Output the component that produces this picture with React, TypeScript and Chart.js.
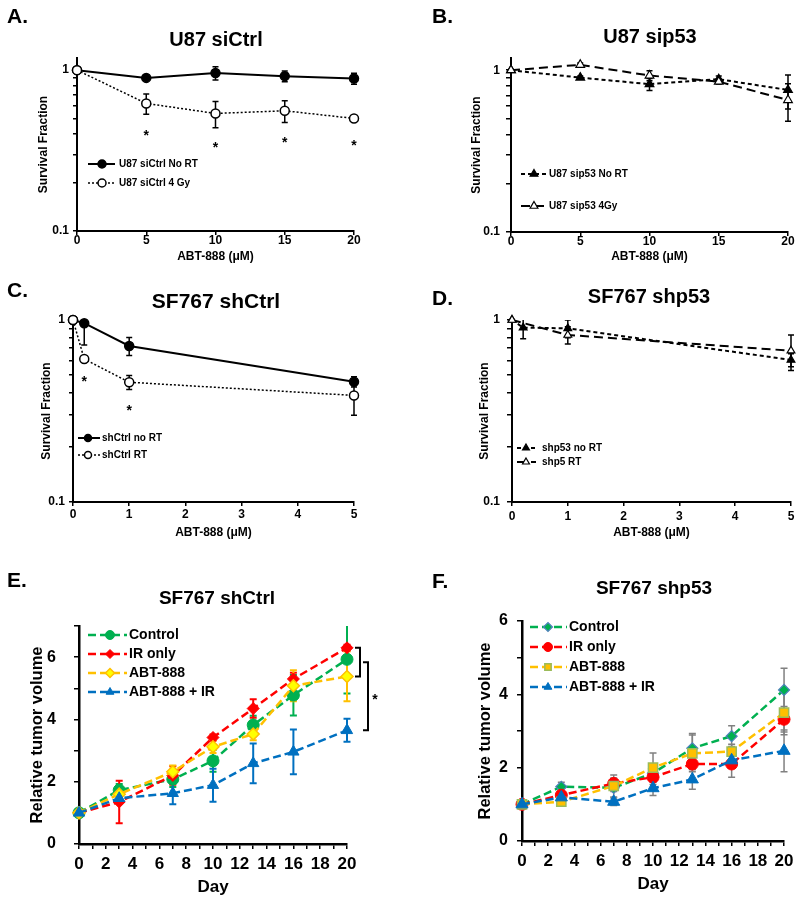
import React, { useEffect, useRef } from 'react';
import { Chart, registerables } from 'chart.js';
import { drawPoint } from 'chart.js/helpers';

Chart.register(...registerables);
Chart.defaults.color = '#000';

const FONT = '"Liberation Sans", Arial, Helvetica, sans-serif';

// ---------- Panel A: U87 siCtrl ----------
const aDose = [0, 5, 10, 15, 20];
const aNoRT = [1.0, 0.895, 0.96, 0.918, 0.888];
const aNoRTErr = [0, 0.03, 0.09, 0.07, 0.07];
const a4Gy = [1.0, 0.621, 0.538, 0.559, 0.501];
const a4GyErr = [0, 0.089, 0.1, 0.087, 0.015];
const aStarDose = [5, 10, 15, 20];
const aStarY = [0.412, 0.347, 0.373, 0.357];

// ---------- Panel B: U87 sip53 ----------
const bDose = [0, 5, 10, 15, 20];
const bNoRT = [1.0, 0.9, 0.82, 0.88, 0.755];
const bNoRTErr = [0, 0.02, 0.07, 0.04, 0.18];
const b4Gy = [1.0, 1.08, 0.927, 0.85, 0.654];
const b4GyErr = [0, 0.03, 0.066, 0.03, 0.17];

// ---------- Panel C: SF767 shCtrl ----------
const cDose = [0, 0.2, 1, 5];
const cNoRT = [1.0, 0.96, 0.72, 0.458];
const cNoRTErr = [0, 0.23, 0.082, 0.03];
const cRT = [1.0, 0.61, 0.455, 0.385];
const cRTErr = [0, 0.02, 0.04, 0.085];
const cStarDose = [0.2, 1];
const cStarY = [0.482, 0.334];

// ---------- Panel D: SF767 shp53 ----------
const dDose = [0, 0.2, 1, 5];
const dNoRT = [1.0, 0.908, 0.9, 0.603];
const dNoRTErr = [0, 0.12, 0.1, 0.05];
const dRT = [1.0, null, 0.827, 0.678];
const dRTErr = [0, 0, 0.09, 0.15];

// ---------- Panel E: SF767 shCtrl tumor volume ----------
const eDay = [0, 3, 7, 10, 13, 16, 20];
const eControl = [1.0, 1.73, 2.08, 2.67, 3.82, 4.78, 5.93];
const eControlErr = [0, 0.2, 0.25, 0.35, 0.3, 0.65, 1.1];
const eIR = [1.0, 1.35, 2.2, 3.42, 4.35, 5.3, 6.3];
const eIRErr = [0, 0.68, 0.3, 0.1, 0.3, 0.2, 0.1];
const eABT = [1.0, 1.6, 2.32, 3.12, 3.53, 5.08, 5.38];
const eABTErr = [0, 0.15, 0.2, 0.2, 0.2, 0.5, 0.8];
const eCombo = [1.0, 1.47, 1.63, 1.89, 2.59, 2.96, 3.65];
const eComboErr = [0, 0.15, 0.35, 0.53, 0.64, 0.72, 0.37];

// ---------- Panel F: SF767 shp53 tumor volume ----------
const fDay = [0, 3, 7, 10, 13, 16, 20];
const fControl = [1.0, 1.48, 1.45, 1.85, 2.53, 2.86, 4.12];
const fControlErr = [0, 0.12, 0.1, 0.2, 0.4, 0.28, 0.59];
const fIR = [1.0, 1.25, 1.57, 1.74, 2.1, 2.1, 3.32];
const fIRErr = [0, 0.1, 0.15, 0.2, 0.15, 0.36, 0.35];
const fABT = [1.0, 1.07, 1.5, 2.0, 2.39, 2.44, 3.5];
const fABTErr = [0, 0.1, 0.3, 0.4, 0.5, 0.2, 0.6];
const fCombo = [1.0, 1.19, 1.07, 1.44, 1.68, 2.2, 2.46];
const fComboErr = [0, 0.1, 0.1, 0.2, 0.27, 0.2, 0.57];

const pts = (xs: number[], ys: (number | null)[]) => xs.map((x, i) => ({ x, y: ys[i] }));

type Deco = {
  letter: string; letterX: number; letterY: number;
  title: string; titleX: number; titleY: number; titleSize: number;
  legend: { x0: number; x1: number; mx: number; tx: number; ys: number[]; size: number; r: number };
  stars?: { xs: number[]; ys: number[]; size: number };
  bracket?: boolean;
  cap: number; errWidth: number;
};

function makeDeco(d: Deco) {
  return {
    id: 'deco',
    beforeDatasetsDraw(chart: any) {
      const ctx = chart.ctx;
      const xs = chart.scales.x, ys = chart.scales.y;
      const ca = chart.chartArea;
      ctx.save();
      ctx.beginPath();
      ctx.rect(ca.left - 20, ca.top, ca.right - ca.left + 40, ca.bottom - ca.top);
      ctx.clip();
      chart.data.datasets.forEach((ds: any) => {
        const errs = ds.errors;
        if (!errs) return;
        ctx.strokeStyle = ds.errorColor || ds.borderColor;
        ctx.lineWidth = d.errWidth;
        ctx.setLineDash([]);
        ds.data.forEach((p: any, j: number) => {
          const e = errs[j];
          if (!e || p.y == null) return;
          const x = xs.getPixelForValue(p.x);
          const yt = ys.getPixelForValue(p.y + e);
          const yb = ys.getPixelForValue(Math.max(p.y - e, 1e-6));
          ctx.beginPath();
          ctx.moveTo(x, yt); ctx.lineTo(x, yb);
          ctx.moveTo(x - d.cap, yt); ctx.lineTo(x + d.cap, yt);
          ctx.moveTo(x - d.cap, yb); ctx.lineTo(x + d.cap, yb);
          ctx.stroke();
        });
      });
      ctx.restore();
    },
    afterDraw(chart: any) {
      const ctx = chart.ctx;
      const xs = chart.scales.x, ys = chart.scales.y;
      ctx.save();
      ctx.fillStyle = '#000';
      ctx.font = `bold 21px ${FONT}`;
      ctx.textAlign = 'left';
      ctx.textBaseline = 'alphabetic';
      ctx.fillText(d.letter, d.letterX, d.letterY);
      ctx.font = `bold ${d.titleSize}px ${FONT}`;
      ctx.textAlign = 'center';
      ctx.textBaseline = 'middle';
      ctx.fillText(d.title, d.titleX, d.titleY);

      const lg = d.legend;
      lg.ys.forEach((y, i) => {
        const ds = chart.data.datasets[i];
        ctx.strokeStyle = ds.borderColor;
        ctx.lineWidth = ds.borderWidth;
        ctx.setLineDash(ds.borderDash || []);
        ctx.beginPath();
        ctx.moveTo(lg.x0, y); ctx.lineTo(lg.x1, y);
        ctx.stroke();
        ctx.setLineDash([]);
        ctx.fillStyle = ds.pointBackgroundColor;
        ctx.strokeStyle = ds.pointBorderColor;
        ctx.lineWidth = ds.pointBorderWidth;
        drawPoint(ctx, { pointStyle: ds.pointStyle, rotation: 0, radius: lg.r, borderWidth: ds.pointBorderWidth } as any, lg.mx, y);
        ctx.fillStyle = '#000';
        ctx.font = `bold ${lg.size}px ${FONT}`;
        ctx.textAlign = 'left';
        ctx.textBaseline = 'middle';
        ctx.fillText(ds.label, lg.tx, y);
      });

      if (d.stars) {
        const s = d.stars;
        ctx.font = `bold ${s.size}px ${FONT}`;
        ctx.textAlign = 'center';
        ctx.textBaseline = 'alphabetic';
        ctx.fillStyle = '#000';
        s.xs.forEach((xv, i) => {
          ctx.fillText('*', xs.getPixelForValue(xv), ys.getPixelForValue(s.ys[i]) + 0.56 * s.size);
        });
      }

      if (d.bracket) {
        const last = eDay.length - 1;
        const xp = xs.getPixelForValue(eDay[last]);
        const t1 = ys.getPixelForValue(eIR[last]);
        const b1 = ys.getPixelForValue(eABT[last]);
        const midV = (eIR[last] + eABT[last]) / 2;
        const t2 = ys.getPixelForValue(midV);
        const b2 = ys.getPixelForValue(eCombo[last]);
        ctx.strokeStyle = '#000';
        ctx.lineWidth = 2;
        ctx.beginPath();
        ctx.moveTo(xp + 8, t1); ctx.lineTo(xp + 13, t1); ctx.lineTo(xp + 13, b1); ctx.lineTo(xp + 8, b1);
        ctx.moveTo(xp + 16, t2); ctx.lineTo(xp + 21, t2); ctx.lineTo(xp + 21, b2); ctx.lineTo(xp + 16, b2);
        ctx.stroke();
        ctx.font = `bold 14px ${FONT}`;
        ctx.textAlign = 'center';
        ctx.textBaseline = 'alphabetic';
        ctx.fillStyle = '#000';
        ctx.fillText('*', xp + 28, ys.getPixelForValue((midV + eCombo[last]) / 2) + 0.56 * 14);
      }
      ctx.restore();
    },
  };
}

type Geo = {
  W: number; H: number; pt: number; pr: number; pb: number; yw: number; xh: number;
  yTick: [number, number]; yTitlePad: number; xTick: [number, number]; xTitlePad: number;
};

function axisBase(len: number, lw: number) {
  return {
    border: { display: true, color: '#000', width: lw },
    grid: { display: true, drawOnChartArea: false, drawTicks: true, tickLength: len, color: '#000', lineWidth: 1.5 },
  };
}

function buildConfig(g: Geo, kind: 'surv' | 'tumor', xMax: number, xStep: number, yMax: number, datasets: any[], deco: Deco) {
  const small = kind === 'surv';
  const tickSize = small ? 12 : 16;
  const titleSize = small ? 12 : 16.5;
  const lw = small ? 2 : 2.5;
  const yScale: any = small
    ? {
        type: 'logarithmic',
        min: 0.1,
        max: yMax,
        afterBuildTicks: (s: any) => {
          s.ticks = s.ticks.filter((t: any) => t.value <= 1.0001 && Math.abs(t.value * 10 - Math.round(t.value * 10)) < 1e-6);
        },
        ticks: {
          autoSkip: false,
          padding: g.yTick[1],
          font: { family: FONT, size: tickSize, weight: 'bold' },
          callback: (v: any) => (Math.abs(v - 1) < 1e-6 ? '1' : Math.abs(v - 0.1) < 1e-6 ? '0.1' : ''),
        },
      }
    : {
        type: 'linear',
        min: 0,
        max: yMax,
        ticks: {
          stepSize: 1,
          autoSkip: false,
          padding: g.yTick[1],
          font: { family: FONT, size: tickSize, weight: 'bold' },
          callback: (v: any) => (v % 2 === 0 ? String(v) : ''),
        },
      };
  Object.assign(yScale, axisBase(g.yTick[0], lw), {
    afterFit: (s: any) => { s.width = g.yw; },
    title: {
      display: true,
      text: small ? 'Survival Fraction' : 'Relative tumor volume',
      font: { family: FONT, size: titleSize, weight: 'bold', lineHeight: 1.2 },
      padding: { top: g.yTitlePad, bottom: 0 },
    },
  });
  const xScale: any = {
    type: 'linear',
    min: 0,
    max: xMax,
    ...axisBase(g.xTick[0], lw),
    afterFit: (s: any) => { s.height = g.xh; },
    ticks: {
      stepSize: xStep,
      autoSkip: false,
      maxRotation: 0,
      padding: g.xTick[1],
      font: { family: FONT, size: small ? tickSize : 17, weight: 'bold', lineHeight: 1 },
      callback: small ? (v: any) => String(v) : (v: any) => (v % 2 === 0 ? String(v) : ''),
    },
    title: {
      display: true,
      text: small ? 'ABT-888 (μM)' : 'Day',
      font: { family: FONT, size: small ? titleSize : 17, weight: 'bold', lineHeight: 1.2 },
      padding: { top: 0, bottom: g.xTitlePad },
    },
  };
  return {
    type: 'line' as const,
    data: { datasets },
    options: {
      responsive: false,
      animation: false as const,
      events: [] as any[],
      layout: { autoPadding: false, padding: { left: 0, top: g.pt, right: g.pr, bottom: g.pb } },
      plugins: { legend: { display: false }, tooltip: { enabled: false }, title: { display: false } },
      scales: { x: xScale, y: yScale },
    },
    plugins: [makeDeco(deco)],
  };
}

function ds(label: string, data: any[], errors: number[], o: any) {
  return {
    label,
    data,
    errors,
    spanGaps: true,
    clip: false,
    tension: 0,
    fill: false,
    ...o,
  };
}

const BLACK = '#000000';

const cfgA = () =>
  buildConfig(
    { W: 400, H: 270, pt: 58, pr: 46, pb: 3, yw: 77, xh: 36, yTick: [4, 4], yTitlePad: 36.8, xTick: [4, 0], xTitlePad: 2.8 },
    'surv', 20, 5, 1.19,
    [
      ds('U87 siCtrl No RT', pts(aDose, aNoRT), aNoRTErr, {
        borderColor: BLACK, borderWidth: 2, borderDash: [], pointStyle: 'circle', pointRadius: 4.5,
        pointBackgroundColor: BLACK, pointBorderColor: BLACK, pointBorderWidth: 1.5, order: 1,
      }),
      ds('U87 siCtrl 4 Gy', pts(aDose, a4Gy), a4GyErr, {
        borderColor: BLACK, borderWidth: 1.5, borderDash: [2, 2], pointStyle: 'circle', pointRadius: 4.5,
        pointBackgroundColor: '#fff', pointBorderColor: BLACK, pointBorderWidth: 1.5, order: 0,
      }),
    ],
    {
      letter: 'A.', letterX: 7, letterY: 23, title: 'U87 siCtrl', titleX: 216, titleY: 40, titleSize: 20,
      legend: { x0: 88, x1: 115, mx: 102, tx: 119, ys: [164, 183], size: 10, r: 4 },
      stars: { xs: aStarDose, ys: aStarY, size: 14 },
      cap: 3, errWidth: 1.5,
    }
  );

const cfgB = () =>
  buildConfig(
    { W: 400, H: 270, pt: 58, pr: 12, pb: 2, yw: 111, xh: 36, yTick: [5, 6], yTitlePad: 69.8, xTick: [4, 0], xTitlePad: 3.8 },
    'surv', 20, 5, 1.19,
    [
      ds('U87 sip53 No RT', pts(bDose, bNoRT), bNoRTErr, {
        borderColor: BLACK, borderWidth: 2, borderDash: [4, 3], pointStyle: 'triangle', pointRadius: 5,
        pointBackgroundColor: BLACK, pointBorderColor: BLACK, pointBorderWidth: 1.2, order: 1,
      }),
      ds('U87 sip53 4Gy', pts(bDose, b4Gy), b4GyErr, {
        borderColor: BLACK, borderWidth: 2, borderDash: [9, 5], pointStyle: 'triangle', pointRadius: 5,
        pointBackgroundColor: '#fff', pointBorderColor: BLACK, pointBorderWidth: 1.2, order: 0,
      }),
    ],
    {
      letter: 'B.', letterX: 32, letterY: 23, title: 'U87 sip53', titleX: 250, titleY: 37, titleSize: 20,
      legend: { x0: 121, x1: 147, mx: 134, tx: 149, ys: [174, 206], size: 10, r: 4.5 },
      cap: 3, errWidth: 1.5,
    }
  );

const cfgC = () =>
  buildConfig(
    { W: 400, H: 270, pt: 50, pr: 46, pb: 0, yw: 73, xh: 38, yTick: [4, 4], yTitlePad: 39.8, xTick: [4, 3], xTitlePad: 0 },
    'surv', 5, 1, 1,
    [
      ds('shCtrl no RT', pts(cDose, cNoRT), cNoRTErr, {
        borderColor: BLACK, borderWidth: 2, borderDash: [], pointStyle: 'circle', pointRadius: 4.5,
        pointBackgroundColor: BLACK, pointBorderColor: BLACK, pointBorderWidth: 1.5, order: 1,
      }),
      ds('shCtrl RT', pts(cDose, cRT), cRTErr, {
        borderColor: BLACK, borderWidth: 1.5, borderDash: [2, 2], pointStyle: 'circle', pointRadius: 4.5,
        pointBackgroundColor: '#fff', pointBorderColor: BLACK, pointBorderWidth: 1.5, order: 0,
      }),
    ],
    {
      letter: 'C.', letterX: 7, letterY: 27, title: 'SF767 shCtrl', titleX: 216, titleY: 32, titleSize: 21,
      legend: { x0: 78, x1: 100, mx: 88, tx: 102, ys: [168, 185], size: 10, r: 3.5 },
      stars: { xs: cStarDose, ys: cStarY, size: 14 },
      cap: 3, errWidth: 1.5,
    }
  );

const cfgD = () =>
  buildConfig(
    { W: 400, H: 270, pt: 50, pr: 9, pb: 0, yw: 112, xh: 38, yTick: [5, 7], yTitlePad: 77.8, xTick: [4, 5], xTitlePad: 0 },
    'surv', 5, 1, 1,
    [
      ds('shp53 no RT', pts(dDose, dNoRT), dNoRTErr, {
        borderColor: BLACK, borderWidth: 2, borderDash: [4, 3], pointStyle: 'triangle', pointRadius: 4.5,
        pointBackgroundColor: BLACK, pointBorderColor: BLACK, pointBorderWidth: 1.2, order: 1,
      }),
      ds('shp5 RT', pts(dDose, dRT), dRTErr, {
        borderColor: BLACK, borderWidth: 2, borderDash: [9, 5], pointStyle: 'triangle', pointRadius: 4.5,
        pointBackgroundColor: '#fff', pointBorderColor: BLACK, pointBorderWidth: 1.2, order: 0,
      }),
    ],
    {
      letter: 'D.', letterX: 32, letterY: 35, title: 'SF767 shp53', titleX: 249, titleY: 27, titleSize: 20,
      legend: { x0: 117, x1: 136, mx: 126, tx: 142, ys: [178, 192], size: 10, r: 4 },
      cap: 3, errWidth: 1.5,
    }
  );

const GREEN = '#00B050', RED = '#FF0000', ORANGE = '#FFC000', YELLOW = '#FFFF00', BLUE = '#0070C0';

const cfgE = () =>
  buildConfig(
    { W: 400, H: 362, pt: 86, pr: 53, pb: 0, yw: 79, xh: 58, yTick: [5, 18], yTitlePad: 27.5, xTick: [5, 6.5], xTitlePad: 4.8 },
    'tumor', 20, 1, 7,
    [
      ds('Control', pts(eDay, eControl), eControlErr, {
        borderColor: GREEN, borderWidth: 2.5, borderDash: [8, 4], pointStyle: 'circle', pointRadius: 6,
        pointBackgroundColor: GREEN, pointBorderColor: GREEN, pointBorderWidth: 1, order: 4,
      }),
      ds('IR only', pts(eDay, eIR), eIRErr, {
        borderColor: RED, borderWidth: 2.5, borderDash: [8, 4], pointStyle: 'rectRot', pointRadius: 6,
        pointBackgroundColor: RED, pointBorderColor: RED, pointBorderWidth: 1, order: 3,
      }),
      ds('ABT-888', pts(eDay, eABT), eABTErr, {
        borderColor: ORANGE, borderWidth: 2.5, borderDash: [8, 4], pointStyle: 'rectRot', pointRadius: 6,
        pointBackgroundColor: YELLOW, pointBorderColor: ORANGE, pointBorderWidth: 1.5, order: 2,
      }),
      ds('ABT-888 + IR', pts(eDay, eCombo), eComboErr, {
        borderColor: BLUE, borderWidth: 2.5, borderDash: [8, 4], pointStyle: 'triangle', pointRadius: 6.5,
        pointBackgroundColor: BLUE, pointBorderColor: BLUE, pointBorderWidth: 1, order: 1,
      }),
    ],
    {
      letter: 'E.', letterX: 7, letterY: 47, title: 'SF767 shCtrl', titleX: 217, titleY: 59, titleSize: 19,
      legend: { x0: 88, x1: 127, mx: 110, tx: 129, ys: [95, 114, 133, 152], size: 14, r: 4.5 },
      bracket: true,
      cap: 3.5, errWidth: 2,
    }
  );

const cfgF = () =>
  buildConfig(
    { W: 400, H: 362, pt: 81, pr: 14, pb: 0, yw: 122, xh: 61, yTick: [5, 9], yTitlePad: 76, xTick: [5, 6.5], xTitlePad: 7.8 },
    'tumor', 20, 1, 6,
    [
      ds('Control', pts(fDay, fControl), fControlErr, {
        borderColor: GREEN, borderWidth: 2.5, borderDash: [8, 4], pointStyle: 'rectRot', pointRadius: 5.5,
        pointBackgroundColor: GREEN, pointBorderColor: '#4F81BD', pointBorderWidth: 1.2, order: 4,
        errorColor: '#808080',
      }),
      ds('IR only', pts(fDay, fIR), fIRErr, {
        borderColor: RED, borderWidth: 2.5, borderDash: [8, 4], pointStyle: 'circle', pointRadius: 6,
        pointBackgroundColor: RED, pointBorderColor: RED, pointBorderWidth: 1, order: 3,
        errorColor: '#808080',
      }),
      ds('ABT-888', pts(fDay, fABT), fABTErr, {
        borderColor: ORANGE, borderWidth: 2.5, borderDash: [8, 4], pointStyle: 'rect', pointRadius: 6.5,
        pointBackgroundColor: ORANGE, pointBorderColor: '#9BBB59', pointBorderWidth: 1.5, order: 2,
        errorColor: '#808080',
      }),
      ds('ABT-888 + IR', pts(fDay, fCombo), fComboErr, {
        borderColor: BLUE, borderWidth: 2.5, borderDash: [8, 4], pointStyle: 'triangle', pointRadius: 7,
        pointBackgroundColor: BLUE, pointBorderColor: BLUE, pointBorderWidth: 1, order: 1,
        errorColor: '#808080',
      }),
    ],
    {
      letter: 'F.', letterX: 32, letterY: 48, title: 'SF767 shp53', titleX: 254, titleY: 49, titleSize: 19,
      legend: { x0: 130, x1: 167, mx: 148, tx: 169, ys: [87, 107, 127, 147], size: 14, r: 4.5 },
      cap: 3.5, errWidth: 1.5,
    }
  );

function Panel({ left, top, width, height, make }: { left: number; top: number; width: number; height: number; make: () => any }) {
  const ref = useRef<HTMLCanvasElement | null>(null);
  useEffect(() => {
    if (!ref.current) return;
    const chart = new Chart(ref.current, make());
    return () => chart.destroy();
  }, []);
  return (
    <canvas
      ref={ref}
      width={width}
      height={height}
      style={{ position: 'absolute', left, top, width, height, display: 'block' }}
    />
  );
}

export default function App() {
  return (
    <div style={{ position: 'absolute', left: 0, top: 0, width: 800, height: 902, background: '#fff', overflow: 'hidden' }}>
      <Panel left={0} top={0} width={400} height={270} make={cfgA} />
      <Panel left={400} top={0} width={400} height={270} make={cfgB} />
      <Panel left={0} top={270} width={400} height={270} make={cfgC} />
      <Panel left={400} top={270} width={400} height={270} make={cfgD} />
      <Panel left={0} top={540} width={400} height={362} make={cfgE} />
      <Panel left={400} top={540} width={400} height={362} make={cfgF} />
    </div>
  );
}
